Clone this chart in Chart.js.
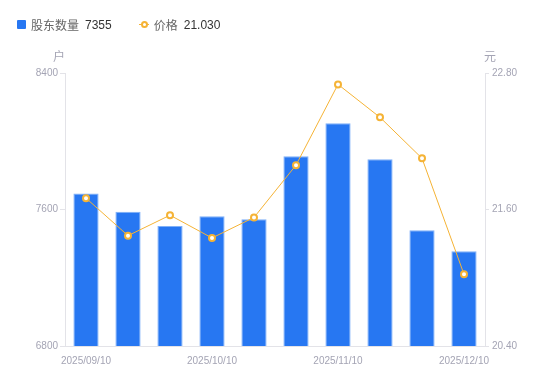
<!DOCTYPE html>
<html>
<head>
<meta charset="utf-8">
<script src="https://cdn.jsdelivr.net/npm/chart.js@4"></script>
<style>
  html, body { margin: 0; padding: 0; background: #fff; }
  #wrap { position: relative; width: 550px; height: 381px; }
  #legend { position: absolute; left: 17px; top: 16px; font: 12px "Liberation Sans", "Noto Sans CJK SC", sans-serif; color: #666; display: flex; align-items: center; }
  #legend .item { display: flex; align-items: center; margin-right: 27px; }
  #legend .sq { width: 9px; height: 9px; background: #2777f2; border-radius: 1px; margin-right: 5px; }
  #legend .ln { position: relative; width: 10px; height: 9px; margin-right: 5px; }
  #legend .ln:before { content: ""; position: absolute; left: 0; right: 0; top: 4px; height: 1px; background: #f5b335; }
  #legend .ln:after { content: ""; position: absolute; left: 2px; top: 1px; width: 3px; height: 3px; border: 2px solid #f5b335; border-radius: 50%; background: #fff; }
  #legend .val { color: #333; margin-left: 6px; font-size: 12px; }
</style>
</head>
<body>
<div id="wrap">
  <canvas id="chart" width="550" height="381"></canvas>
  <div id="legend">
    <div class="item"><span class="sq"></span>股东数量<span class="val">7355</span></div>
    <div class="item"><span class="ln"></span>价格<span class="val">21.030</span></div>
  </div>
</div>
<script>
const dates = ["2025/09/10", "2025/09/20", "2025/09/30", "2025/10/10", "2025/10/20",
               "2025/10/31", "2025/11/10", "2025/11/20", "2025/11/30", "2025/12/10"];
const holders = [7694, 7587, 7503, 7560, 7543, 7912, 8105, 7894, 7478, 7355];
const prices = [21.70, 21.37, 21.55, 21.35, 21.53, 21.99, 22.70, 22.41, 22.05, 21.03];
const holderTicks = [6800, 7600, 8400];
const priceTicks = [20.40, 21.60, 22.80];

const fontFamily = '"Liberation Sans", "Noto Sans CJK SC", sans-serif';
const tickColor = '#a4a4b4';
const lineColor = '#e3e3e8';

const unitLabels = {
  id: 'unitLabels',
  afterDraw(chart) {
    const ctx = chart.ctx;
    const area = chart.chartArea;
    ctx.save();
    ctx.font = '12px ' + fontFamily;
    ctx.fillStyle = tickColor;
    ctx.textAlign = 'center';
    ctx.textBaseline = 'middle';
    ctx.fillText('户', area.left - 6, area.top - 15);
    ctx.fillText('元', area.right + 5, area.top - 15);
    ctx.restore();
  }
};

new Chart(document.getElementById('chart'), {
  data: {
    labels: dates,
    datasets: [
      {
        type: 'line',
        label: '价格',
        data: prices,
        yAxisID: 'yPrice',
        borderColor: '#f5b335',
        borderWidth: 1,
        pointRadius: 3,
        pointBorderWidth: 2,
        pointBackgroundColor: '#fff',
        pointBorderColor: '#f5b335',
        tension: 0
      },
      {
        type: 'bar',
        label: '股东数量',
        data: holders,
        yAxisID: 'yHolders',
        backgroundColor: '#2777f2',
        borderColor: '#7fb0f8',
        borderWidth: 1,
        categoryPercentage: 1,
        barPercentage: 0.6
      }
    ]
  },
  options: {
    responsive: false,
    animation: false,
    layout: { padding: { top: 73 } },
    plugins: { legend: { display: false }, tooltip: { enabled: false } },
    scales: {
      x: {
        grid: { display: false },
        border: { color: lineColor },
        afterFit(scale) { scale.height = 35; },
        ticks: {
          autoSkip: false,
          maxRotation: 0,
          color: tickColor,
          font: { size: 10, family: fontFamily },
          padding: 1,
          callback(value, index) { return index % 3 === 0 ? dates[index] : ''; }
        }
      },
      yHolders: {
        position: 'left',
        min: 6800,
        max: 8400,
        afterFit(scale) { scale.width = 65; },
        afterBuildTicks(scale) { scale.ticks = holderTicks.map(v => ({ value: v })); },
        border: { color: lineColor },
        grid: { drawOnChartArea: false, color: lineColor, tickLength: 5 },
        ticks: {
          color: tickColor,
          font: { size: 10, family: fontFamily },
          padding: 2,
          callback(value) { return String(value); }
        }
      },
      yPrice: {
        position: 'right',
        min: 20.40,
        max: 22.80,
        afterFit(scale) { scale.width = 65; },
        afterBuildTicks(scale) { scale.ticks = priceTicks.map(v => ({ value: v })); },
        border: { color: lineColor },
        grid: { drawOnChartArea: false, color: lineColor, tickLength: 4 },
        ticks: {
          color: tickColor,
          font: { size: 10, family: fontFamily },
          padding: 3,
          callback(value) { return Number(value).toFixed(2); }
        }
      }
    }
  },
  plugins: [unitLabels]
});
</script>
</body>
</html>
